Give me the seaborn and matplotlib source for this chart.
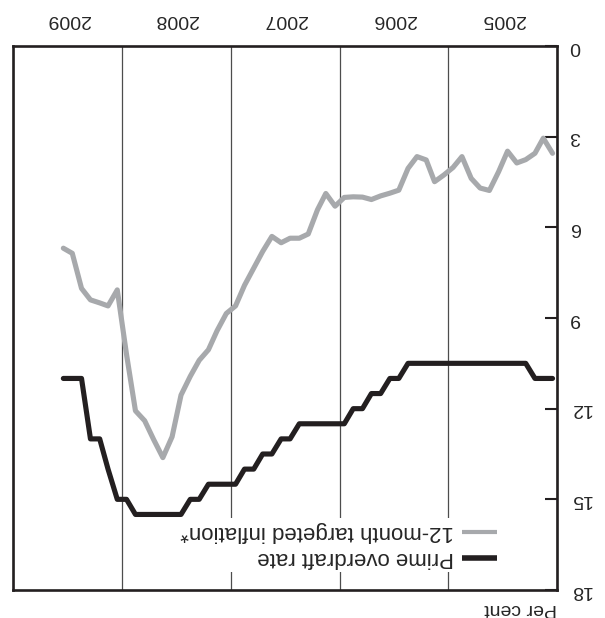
import matplotlib
matplotlib.use('Agg')
import pandas as pd
import seaborn as sns
import matplotlib.pyplot as plt
from matplotlib.patches import Rectangle
from matplotlib.lines import Line2D

# monthly, Jan 2005 - Jul 2009 (plotted mid-month)
months = pd.date_range('2005-01-01', periods=55, freq='MS') + pd.Timedelta(days=15)

inflation = [3.55, 3.05, 3.55, 3.76, 3.87, 3.48, 4.16, 4.78, 4.70, 4.38, 3.66, 4.02,
             4.27, 4.49, 3.77, 3.66, 4.05, 4.77, 4.87, 4.96, 5.08, 5.00, 4.99, 5.01,
             5.30, 4.88, 5.42, 6.22, 6.36, 6.36, 6.51, 6.30, 6.80, 7.35, 7.92, 8.60,
             8.85, 9.42, 10.05, 10.40, 10.93, 11.55, 12.93, 13.62, 13.02, 12.40, 12.07, 10.20,
             8.07, 8.60, 8.50, 8.40, 8.02, 6.86, 6.69]

prime = [11.0, 11.0, 11.0, 10.5, 10.5, 10.5, 10.5, 10.5, 10.5, 10.5, 10.5, 10.5,
         10.5, 10.5, 10.5, 10.5, 10.5, 11.0, 11.0, 11.5, 11.5, 12.0, 12.0, 12.5,
         12.5, 12.5, 12.5, 12.5, 12.5, 13.0, 13.0, 13.5, 13.5, 14.0, 14.0, 14.5,
         14.5, 14.5, 14.5, 15.0, 15.0, 15.5, 15.5, 15.5, 15.5, 15.5, 15.5, 15.0,
         15.0, 14.0, 13.0, 13.0, 11.0, 11.0, 11.0]

years = [2005, 2006, 2007, 2008, 2009]
yticks = [0, 3, 6, 9, 12, 15, 18]
labels = ['Prime overdraft rate', '12-month targeted inflation*']
colors = ['#231f20', '#a7a9ac']

sns.set_style('white')
plt.rcParams['font.family'] = ['Liberation Sans', 'DejaVu Sans']

df = pd.DataFrame({'month': months, 'inflation': inflation, 'prime': prime})

fig = plt.figure(figsize=(6.05, 6.18), dpi=100)
ax = fig.add_axes([13 / 605, 28 / 618, 544 / 605, 544 / 618])

sns.lineplot(data=df, x='month', y='inflation', color=colors[1], lw=3.7, ax=ax, zorder=4)
sns.lineplot(data=df, x='month', y='prime', color=colors[0], lw=3.7, ax=ax, zorder=5)

# whole chart is drawn upside down
ax.set_xlim(pd.Timestamp('2010-01-01'), pd.Timestamp('2005-01-01'))
ax.set_ylim(18, 0)
ax.set_xlabel('')
ax.set_ylabel('')

ax.xaxis.tick_top()
ax.set_xticks([pd.Timestamp(y, 1, 1) for y in years + [2010]])
ax.set_xticklabels([])
ax.set_xticks([pd.Timestamp(y, 7, 1) for y in years], minor=True)
ax.set_xticklabels([str(y) for y in years], minor=True, rotation=180, fontsize=14)
ax.tick_params(axis='x', which='both', length=0, pad=13, labeltop=True, labelbottom=False)
ax.grid(axis='x', which='major', color='#4d4d4d', lw=0.9)
ax.set_axisbelow(True)

ax.yaxis.tick_right()
ax.set_yticks(yticks)
ax.set_yticklabels([str(v) for v in yticks], rotation=180, fontsize=14)
for t in ax.get_yticklabels():
    t.set_va('center')
ax.tick_params(axis='y', direction='in', length=8.5, width=1.5, pad=9, color='#231f20')

for s in ax.spines.values():
    s.set_linewidth(1.9)
    s.set_color('#231f20')

ax.text(1.0, -0.018, 'Per cent', transform=ax.transAxes, rotation=180,
        ha='right', va='top', fontsize=14)

# legend (upside down), white box hides grid lines
ax.add_patch(Rectangle((0.35, 0.033), 0.57, 0.10, transform=ax.transAxes,
                       fc='white', ec='none', zorder=1))
for lab, col, yy, w in zip(labels, colors, [0.059, 0.107], [4.0, 3.0]):
    ax.add_line(Line2D([0.825, 0.89], [yy, yy], transform=ax.transAxes,
                       color=col, lw=w, solid_capstyle='butt', zorder=6))
    ax.text(0.811, yy, lab, transform=ax.transAxes, rotation=180,
            ha='right', va='center', fontsize=16, zorder=6)

plt.savefig('out.png', dpi=100)
